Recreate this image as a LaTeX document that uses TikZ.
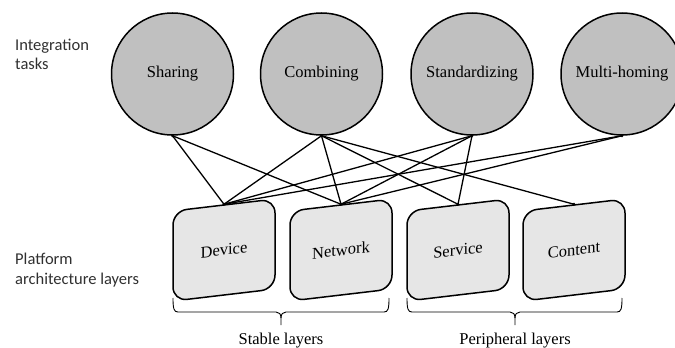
\documentclass[tikz,border=0pt]{standalone}
\usepackage{fontspec}
\setmainfont{Liberation Serif}
\newfontfamily\sidefont{Carlito}
\definecolor{taskgray}{HTML}{C0C0C0}
\definecolor{layergray}{HTML}{E6E6E6}
\definecolor{sidegray}{HTML}{303030}
\begin{document}
\begin{tikzpicture}[x=1pt,y=-1pt,
  task/.style={circle, draw, line width=1.5pt, fill=taskgray, minimum size=122pt,
    inner sep=0pt, font=\fontsize{16.5}{18}\selectfont},
  layer/.style={rectangle, draw, line width=1.5pt, fill=layergray, rounded corners=14pt,
    minimum width=102pt, minimum height=90pt, inner sep=0pt, yslant=0.118,
    font=\fontsize{16.5}{18}\selectfont},
  link/.style={line width=1.3pt},
  joint/.style={fill=black},
  sidelabel/.style={anchor=base west, inner sep=0pt, text=sidegray,
    font=\sidefont\fontsize{16.5}{20}\selectfont},
  bracelabel/.style={anchor=base, inner sep=0pt, font=\fontsize{16.5}{18}\selectfont},
  bracket/.style={line width=0.9pt}]
\useasboundingbox (0,0) rectangle (675,348);
\clip (0,0) rectangle (675,348);

% integration tasks
\node[task] (share) at (172.5,74) {Sharing};
\node[task] (comb)  at (321.5,74) {Combining};
\node[task] (std)   at (472,74)   {Standardizing};
\node[task] (multi) at (622,74)   {Multi-homing};

% platform architecture layers
\node[layer] (dev)  at (224,250) {Device};
\node[layer] (net)  at (341,250) {Network};
\node[layer] (serv) at (458,250) {Service};
\node[layer] (cont) at (574,250) {Content};

% which task touches which layer
\draw[link] (share.south) -- (dev.north);
\draw[link] (share.south) -- (net.north);
\draw[link] (comb.south) -- (dev.north);
\draw[link] (comb.south) -- (net.north);
\draw[link] (comb.south) -- (serv.north);
\draw[link] (comb.south) -- (cont.north);
\draw[link] (std.south) -- (dev.north);
\draw[link] (std.south) -- (net.north);
\draw[link] (std.south) -- (serv.north);
\draw[link] (multi.south) -- (dev.north);
\draw[link] (multi.south) -- (net.north);

% small joints where the links meet the shapes
\foreach \n in {share,comb,std,multi} \fill[joint] (\n.south) circle (1.7pt);
\foreach \n in {dev,net,serv,cont} \fill[joint] (\n.north) circle (1.7pt);

% row captions
\node[sidelabel] (it1) at (15,50) {Integration};
\node[sidelabel] (it2) at (15,69) {tasks};
\node[sidelabel] (pa1) at (15,264) {Platform};
\node[sidelabel] (pa2) at (15,284) {architecture layers};

% grouping brackets under the layers
\draw[bracket] (173,298) .. controls (173,309) and (174,312) .. (178,312) -- (276,312)
  .. controls (279,312) and (281,314) .. (281,318) -- (281,325);
\draw[bracket] (281,318) .. controls (281,314) and (283,312) .. (286,312) -- (384,312)
  .. controls (388,312) and (389,309) .. (389,298);
\draw[bracket] (407,298) .. controls (407,309) and (408,312) .. (412,312) -- (510,312)
  .. controls (513,312) and (515,314) .. (515,318) -- (515,325);
\draw[bracket] (515,318) .. controls (515,314) and (517,312) .. (520,312) -- (617,312)
  .. controls (621,312) and (622,309) .. (622,298);
\node[bracelabel] (stable) at (281,344) {Stable layers};
\node[bracelabel] (periph) at (515,344) {Peripheral layers};
\end{tikzpicture}
\end{document}
